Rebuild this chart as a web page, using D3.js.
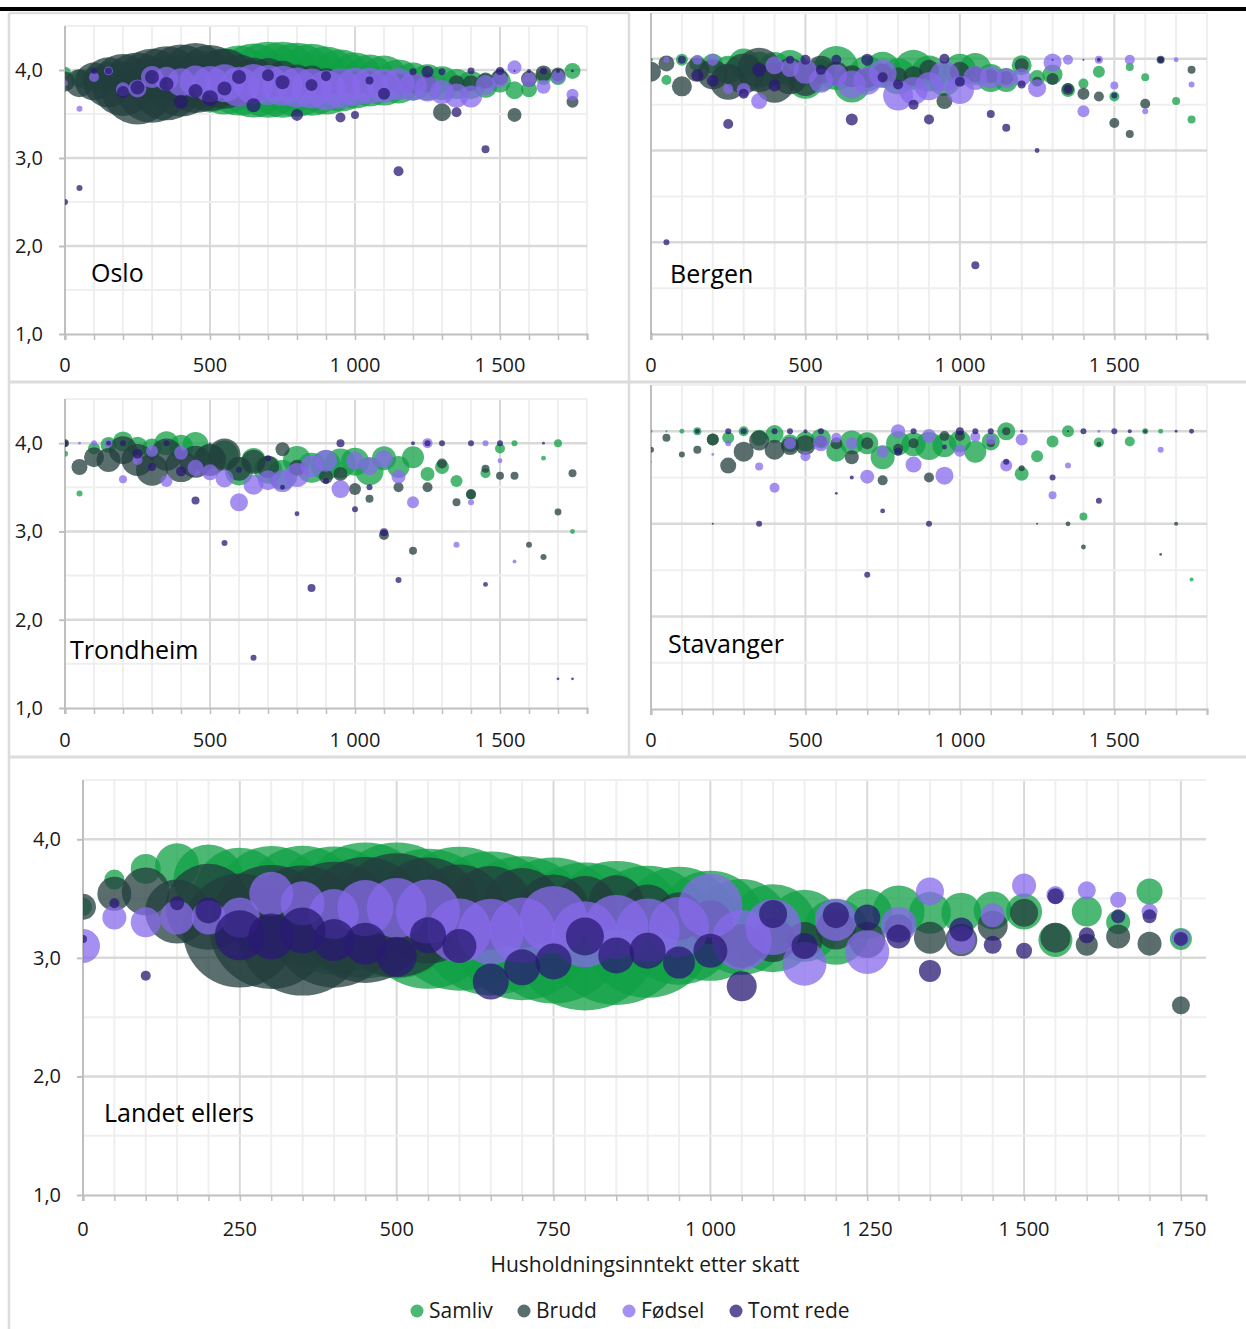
<!DOCTYPE html>
<html><head><meta charset="utf-8">
<script src="https://cdn.jsdelivr.net/npm/d3@7"></script>
<style>
html,body{margin:0;padding:0;background:#fff;}
svg{display:block;font-family:"Open Sans","Noto Sans",sans-serif;}
</style></head><body>
<svg id="chart" width="1246" height="1329"></svg>
<script>
// ---------------- DATA ----------------
const incomes = [0,50,100,150,200,250,300,350,400,450,500,550,600,650,700,750,800,850,900,950,1000,1050,1100,1150,1200,1250,1300,1350,1400,1450,1500,1550,1600,1650,1700,1750];
const seriesNames = ["Samliv","Brudd","Fødsel","Tomt rede"];
const yTickValues = [1,2,3,4];
const xTickLabelsSmall = [0,500,1000,1500];
const xTickLabelsLarge = [0,250,500,750,1000,1250,1500,1750];
const panelNames = ["Oslo","Bergen","Trondheim","Stavanger","Landet ellers"];
const xAxisTitle = "Husholdningsinntekt etter skatt";

// Oslo
const osloSamlivY = [3.97,3.90,3.90,3.92,3.90,3.90,3.90,3.90,3.88,3.88,3.87,3.87,3.88,3.88,3.89,3.89,3.89,3.89,3.88,3.88,3.88,3.88,3.88,3.87,3.87,3.86,3.85,3.84,3.83,3.82,3.87,3.77,3.78,3.92,3.92,3.99];
const osloSamlivN = [36,81,144,225,324,400,484,576,676,784,961,1089,1225,1369,1444,1444,1369,1296,1156,961,784,676,625,484,361,324,289,225,196,144,121,81,64,64,64,64];
const osloBruddY = [3.87,3.85,3.87,3.86,3.83,3.79,3.82,3.85,3.88,3.91,3.91,3.90,3.88,3.89,3.91,3.90,3.88,3.88,3.86,3.86,3.85,3.85,3.85,3.85,3.85,3.85,3.52,3.85,3.85,3.88,3.92,3.49,3.90,3.96,3.95,3.64];
const osloBruddN = [100,196,361,625,961,1296,1369,1369,1296,1225,1089,900,676,484,400,324,256,225,196,169,144,144,121,100,100,81,81,64,64,64,64,49,64,64,49,36];
const osloFodselY = [3.85,3.56,3.92,3.99,3.78,3.79,3.92,3.90,3.86,3.87,3.84,3.85,3.81,3.84,3.83,3.82,3.80,3.79,3.77,3.79,3.81,3.82,3.82,3.84,3.81,3.79,3.75,3.71,3.70,3.83,3.89,4.03,3.89,3.81,3.92,3.72];
const osloFodselN = [9,9,25,20,49,81,121,144,196,256,324,361,400,400,400,400,400,400,400,400,361,324,289,256,196,169,144,144,121,100,64,49,49,49,49,36];
const osloTomtY = [2.50,2.66,3.99,3.99,3.75,3.80,3.92,3.84,3.64,3.76,3.68,3.79,3.92,3.60,3.94,3.86,3.49,3.83,3.93,3.46,3.49,3.88,3.73,2.85,3.98,3.98,3.98,3.52,3.99,3.10,3.99,3.99,3.99,3.99,3.99,3.99];
const osloTomtN = [9,9,9,12,36,49,49,49,49,49,64,49,49,49,36,49,36,36,25,25,16,16,36,25,12,36,12,25,12,16,16,1,4,12,4,2];

// Bergen
const bergenSamlivY = [3.99,3.77,3.99,3.95,3.95,3.88,3.95,3.88,3.90,3.90,3.76,3.82,3.90,3.72,3.84,3.88,3.81,3.88,3.84,3.77,3.88,3.89,3.79,3.77,3.93,3.79,3.83,3.66,3.73,3.86,3.59,3.91,3.80,3.99,3.54,3.34];
const bergenSamlivN = [4,25,36,64,100,196,225,324,256,324,324,256,484,324,324,324,324,400,324,256,256,256,196,144,100,64,100,49,25,36,25,16,16,9,16,16];
const bergenBruddY = [3.86,3.95,3.70,3.88,3.83,3.75,3.84,3.88,3.74,3.81,3.77,3.88,3.84,3.81,3.79,3.84,3.81,3.81,3.88,3.54,3.86,3.83,3.81,3.79,3.93,3.75,3.78,3.67,3.62,3.59,3.30,3.18,3.51,3.99,null,3.88];
const bergenBruddN = [100,64,100,144,225,324,400,484,400,324,256,196,144,121,100,100,81,100,100,64,100,64,49,49,49,25,36,36,36,25,25,16,25,16,null,16];
const bergenFodselY = [1.00,3.99,null,3.99,3.99,3.67,3.66,3.54,3.93,3.90,3.86,3.76,3.82,3.72,3.76,3.84,3.60,3.65,3.70,3.81,3.66,3.79,3.80,3.79,3.80,3.68,3.96,3.99,3.43,3.99,3.71,3.99,3.43,null,3.99,3.72];
const bergenFodselN = [2,9,null,25,36,25,49,64,81,81,144,144,121,196,196,196,225,196,196,225,196,144,121,100,81,81,81,25,36,16,16,25,9,null,6,9];
const bergenTomtY = [null,2.00,3.99,3.82,3.76,3.29,3.62,3.88,3.71,3.99,3.99,3.88,3.99,3.34,3.99,3.80,3.72,3.50,3.34,4.00,3.75,1.75,3.40,3.25,3.72,3.00,3.99,3.67,3.99,3.99,3.60,null,null,3.99,null,null];
const bergenTomtN = [null,9,16,36,36,25,25,49,36,16,25,25,25,36,36,25,25,25,25,25,25,16,16,16,16,6,1,16,1,4,9,null,null,9,null,null];

// Trondheim
const trondSamlivY = [3.88,3.43,3.94,3.98,4.02,3.96,3.94,4.00,3.96,3.98,3.85,3.87,3.68,3.81,3.70,3.64,3.81,3.72,3.75,3.77,3.79,3.68,3.83,3.73,3.84,3.65,3.73,3.57,3.42,3.66,3.94,4.00,null,3.83,4.00,3.00];
const trondSamlivN = [9,9,36,64,100,100,100,144,144,169,169,196,196,144,196,225,196,225,225,225,196,196,144,121,121,49,49,36,25,25,25,9,null,6,16,6];
const trondBruddY = [4.00,3.73,3.84,3.81,3.92,3.81,3.70,3.87,3.74,3.79,3.81,3.87,3.71,3.79,3.73,3.93,3.72,null,3.62,3.65,3.48,3.37,2.96,3.50,2.78,3.50,3.77,3.33,3.42,3.71,3.63,3.63,2.85,2.71,3.22,3.66];
const trondBruddN = [16,64,100,144,196,256,256,256,256,256,256,256,144,144,121,49,64,null,49,49,36,16,25,25,16,25,25,16,25,16,16,16,9,9,12,16];
const trondFodselY = [null,4.00,4.00,4.00,3.59,3.81,3.91,3.57,3.89,3.72,3.67,3.60,3.33,3.53,3.58,3.57,3.64,3.74,3.80,3.48,3.80,3.74,3.82,3.62,3.33,4.00,null,2.85,3.33,4.00,3.80,2.66,null,null,null,null];
const trondFodselN = [null,2,9,16,16,25,36,36,49,64,64,81,81,100,100,121,144,121,121,81,81,81,81,49,36,25,null,9,9,9,6,4,null,null,null,null];
const trondTomtY = [4.00,null,null,4.00,4.00,3.88,3.73,4.00,3.68,3.35,4.00,2.87,3.70,1.57,3.83,3.50,3.20,2.36,3.57,4.00,3.25,3.50,2.99,2.45,4.00,4.00,4.00,null,4.00,2.40,4.00,null,null,4.00,1.33,1.33];
const trondTomtN = [9,null,null,6,9,25,16,9,25,16,1,9,9,9,9,6,6,16,9,16,9,9,16,9,4,9,9,null,9,6,9,null,null,2,2,2];

// Stavanger
const stavSamlivY = [4.00,4.00,4.00,4.00,3.91,3.93,4.00,3.93,3.97,3.87,3.89,3.92,3.78,3.88,3.87,3.72,3.87,3.86,3.84,3.85,3.89,3.78,3.89,4.00,3.54,3.73,3.89,4.00,3.08,3.88,null,3.89,4.00,4.00,null,2.40];
const stavSamlivN = [2,1,6,16,36,36,25,64,81,81,100,100,100,144,121,144,144,144,196,144,121,121,81,81,49,36,36,36,16,25,null,25,9,6,null,4];
const stavBruddY = [3.80,3.93,3.75,3.80,3.91,3.63,3.78,3.90,3.80,3.84,3.85,3.89,3.87,3.72,3.87,3.47,3.81,3.87,3.50,3.95,3.95,null,3.87,4.00,3.60,null,null,3.00,2.75,3.86,null,null,4.00,2.67,3.00,null];
const stavBruddN = [9,16,9,16,36,64,100,100,100,81,100,36,36,49,36,25,25,25,25,25,25,null,16,16,9,null,null,6,6,6,null,null,4,2,4,null];
const stavFodselY = [3.67,null,null,null,3.75,3.87,null,3.62,3.39,3.87,3.73,3.87,3.93,3.87,3.51,3.78,4.00,3.64,3.95,3.52,3.79,3.94,3.91,3.63,3.91,null,3.31,3.63,null,4.00,null,null,null,3.80,null,null];
const stavFodselN = [1,null,null,null,2,9,null,16,25,36,25,64,25,36,49,36,49,64,49,81,36,25,25,36,36,null,16,9,null,2,null,null,null,9,null,null];
const stavTomtY = [null,null,null,4.00,3.00,4.00,4.00,3.00,4.00,4.00,4.00,4.00,3.33,3.50,2.45,3.14,3.78,4.00,3.00,3.83,4.00,4.00,4.00,3.67,4.00,3.00,3.50,4.00,4.00,3.25,4.00,4.00,null,null,4.00,4.00];
const stavTomtN = [null,null,null,6,1,9,9,9,9,9,4,9,2,4,9,6,16,9,9,6,16,9,9,9,2,1,9,1,9,9,9,4,null,null,2,6];

// Landet ellers
const landSamlivY = [3.43,3.66,3.75,3.78,3.66,3.55,3.48,3.44,3.40,3.40,3.40,3.33,3.33,3.29,3.25,3.23,3.18,3.21,3.22,3.27,3.27,3.26,3.25,3.27,3.22,3.37,3.39,3.38,3.38,3.40,3.39,3.15,3.39,3.30,3.56,3.16];
const landSamlivN = [81,100,225,484,1225,2025,3025,3600,4096,4624,4624,4900,5184,5184,5184,5329,5476,5184,4356,3481,3025,2304,1936,1296,1089,625,676,441,400,361,324,289,225,144,169,121];
const landBruddY = [3.43,3.54,3.56,3.39,3.43,3.23,3.26,3.23,3.28,3.32,3.36,3.40,3.39,3.42,3.42,3.40,3.42,3.46,3.40,3.35,3.30,3.10,3.15,3.15,3.24,3.15,3.25,3.17,3.15,3.27,3.38,3.17,3.11,3.18,3.12,2.60];
const landBruddN = [169,289,576,1024,1849,3249,3844,4225,3969,3969,3844,2809,2209,1764,1600,1296,1024,784,676,576,484,484,484,324,400,324,196,256,256,225,196,225,121,144,144,81];
const landFodselY = [3.10,3.34,3.30,3.34,3.34,3.34,3.54,3.46,3.37,3.42,3.42,3.39,3.23,3.22,3.23,3.32,3.20,3.26,3.23,3.26,3.44,3.15,3.26,2.95,3.32,3.05,3.28,3.56,3.15,3.36,3.61,3.53,3.57,3.49,3.39,3.17];
const landFodselN = [289,144,225,289,289,400,484,484,625,784,900,1024,1024,1089,1089,1156,1089,1024,1024,900,1024,900,784,484,441,484,324,196,196,144,144,81,81,64,64,81];
const landTomtY = [3.16,3.46,2.85,3.46,3.40,3.19,3.18,3.23,3.15,3.12,3.01,3.19,3.10,2.80,2.92,2.97,3.18,3.02,3.06,2.96,3.06,2.76,3.37,3.10,3.36,3.34,3.18,2.89,3.24,3.11,3.06,3.52,3.19,3.35,3.35,3.16];
const landTomtN = [16,25,25,49,169,625,529,529,441,441,400,324,289,324,324,324,361,324,324,256,289,225,196,169,169,169,144,121,144,81,64,64,64,49,49,49];

// ---------------- RENDER ----------------
const colors = {"Samliv":"#10a044","Brudd":"#233e3e","Fødsel":"#876aeb","Tomt rede":"#2a1a74"};
const bubbleOpacity = 0.75;
const nb = d3.formatLocale({decimal:",", thousands:"\u00a0", grouping:[3], currency:["","kr"]});
const fmtX = nb.format(",d");
const fmtY = nb.format(".1f");

const svg = d3.select("#chart");

function series(Y, N){ return incomes.map((x,i)=>({x, y:Y[i], n:N[i]})).filter(d=>d.y!=null && d.n!=null); }

const panels = [
  {name:panelNames[0], x0:65, x1:587, xMax:1800, yBot:334, yTop:26, yLabels:true, labelX:91, labelY:282, xLabY:372, small:true,
   data:[series(osloSamlivY,osloSamlivN),series(osloBruddY,osloBruddN),series(osloFodselY,osloFodselN),series(osloTomtY,osloTomtN)]},
  {name:panelNames[1], x0:651, x1:1207, xMax:1800, yBot:334, yTop:13, yLabels:false, labelX:670, labelY:283, xLabY:372, small:true,
   data:[series(bergenSamlivY,bergenSamlivN),series(bergenBruddY,bergenBruddN),series(bergenFodselY,bergenFodselN),series(bergenTomtY,bergenTomtN)]},
  {name:panelNames[2], x0:65, x1:587, xMax:1800, yBot:708, yTop:399, yLabels:true, labelX:70, labelY:659, xLabY:747, small:true,
   data:[series(trondSamlivY,trondSamlivN),series(trondBruddY,trondBruddN),series(trondFodselY,trondFodselN),series(trondTomtY,trondTomtN)]},
  {name:panelNames[3], x0:651, x1:1207, xMax:1800, yBot:709, yTop:385, yLabels:false, labelX:668, labelY:653, xLabY:747, small:true,
   data:[series(stavSamlivY,stavSamlivN),series(stavBruddY,stavBruddN),series(stavFodselY,stavFodselN),series(stavTomtY,stavTomtN)]},
  {name:panelNames[4], x0:83, x1:1206, xMax:1790, yBot:1195, yTop:780, yLabels:true, labelX:104, labelY:1122, xLabY:1236, small:false,
   data:[series(landSamlivY,landSamlivN),series(landBruddY,landBruddN),series(landFodselY,landFodselN),series(landTomtY,landTomtN)]}
];

// frames
const frameColor = "#dcdcdc";
const fr = svg.append("g");
fr.append("line").attr("x1",9).attr("x2",9).attr("y1",13).attr("y2",1329).attr("stroke",frameColor).attr("stroke-width",2.5);
fr.append("line").attr("x1",9).attr("x2",629).attr("y1",13).attr("y2",13).attr("stroke",frameColor).attr("stroke-width",2.5);
fr.append("line").attr("x1",629).attr("x2",629).attr("y1",13).attr("y2",757).attr("stroke",frameColor).attr("stroke-width",2.5);
fr.append("line").attr("x1",9).attr("x2",1246).attr("y1",382).attr("y2",382).attr("stroke",frameColor).attr("stroke-width",3);
fr.append("line").attr("x1",9).attr("x2",1246).attr("y1",757).attr("y2",757).attr("stroke",frameColor).attr("stroke-width",3);
// top black rule
svg.append("rect").attr("x",0).attr("y",7).attr("width",1246).attr("height",4).attr("fill","#000");

panels.forEach((p,pi)=>{
  const g = svg.append("g");
  const x = d3.scaleLinear().domain([0,p.xMax]).range([p.x0,p.x1]);
  const y = d3.scaleLinear().domain([1,4.5]).range([p.yBot,p.yTop]);
  const r = p.small ? d3.scaleSqrt().domain([0,1444]).range([0,38]) : d3.scaleSqrt().domain([0,5476]).range([0,74]);
  const step = p.small ? 100 : 50;
  const major = p.small ? 500 : 250;
  const vx = d3.range(0, p.xMax+1, step);
  // vertical grid
  g.append("g").selectAll("line").data(vx).join("line")
    .attr("x1",d=>x(d)).attr("x2",d=>x(d)).attr("y1",y(4.5)).attr("y2",y(1))
    .attr("stroke",d=> d%major===0 ? "#d9d9d9" : "#efefef").attr("stroke-width",2);
  // horizontal grid
  const hy = [1.5,2,2.5,3,3.5,4,4.5];
  g.append("g").selectAll("line").data(hy).join("line")
    .attr("x1",x(0)).attr("x2",p.x1).attr("y1",d=>y(d)).attr("y2",d=>y(d))
    .attr("stroke",d=> Number.isInteger(d) ? "#d9d9d9" : "#efefef").attr("stroke-width",d=>Number.isInteger(d)?2.5:2);
  // axes
  const xAxis = d3.axisBottom(x).tickValues(vx).tickSize(6).tickFormat("");
  const xa = g.append("g").attr("transform",`translate(0,${y(1)})`).call(xAxis);
  xa.select(".domain").attr("stroke","#bfbfbf").attr("stroke-width",2);
  xa.selectAll(".tick line").attr("stroke","#bfbfbf").attr("stroke-width",1.5);
  g.append("line").attr("x1",x(0)).attr("x2",x(0)).attr("y1",y(4.5)).attr("y2",y(1)+6).attr("stroke","#bfbfbf").attr("stroke-width",2);
  // x tick labels
  const xl = p.small ? xTickLabelsSmall : xTickLabelsLarge;
  g.append("g").selectAll("text").data(xl).join("text")
    .attr("x",d=>x(d)).attr("y",p.xLabY).attr("text-anchor","middle")
    .attr("font-size",20).attr("fill","#1a1a1a").text(d=>fmtX(d));
  if(p.yLabels){
    const ya = g.append("g").attr("transform",`translate(${x(0)},0)`)
      .call(d3.axisLeft(y).tickValues(yTickValues).tickSize(6).tickPadding(16).tickFormat(fmtY));
    ya.select(".domain").remove();
    ya.selectAll(".tick line").attr("stroke","#bfbfbf").attr("stroke-width",2);
    ya.selectAll("text").attr("font-size",20).attr("fill","#1a1a1a").attr("font-family","Open Sans, Noto Sans, sans-serif");
  }
  // clip
  const cid = "clip"+pi;
  svg.append("clipPath").attr("id",cid).append("rect")
    .attr("x",p.x0).attr("y",y(4.5)).attr("width",p.x1-p.x0).attr("height",y(1)-y(4.5));
  const bg = g.append("g").attr("clip-path",`url(#${cid})`);
  p.data.forEach((s,si)=>{
    bg.append("g").selectAll("circle").data(s).join("circle")
      .attr("cx",d=>x(d.x)).attr("cy",d=>y(d.y)).attr("r",d=>r(d.n))
      .attr("fill",colors[seriesNames[si]]).attr("fill-opacity",bubbleOpacity);
  });
  // panel label
  g.append("text").attr("x",p.labelX).attr("y",p.labelY).attr("font-size",25).attr("fill","#000").text(p.name);
});

// axis title
svg.append("text").attr("x",645).attr("y",1272).attr("text-anchor","middle").attr("font-size",21).attr("fill","#1a1a1a").text(xAxisTitle);

// legend
const legendX = [417,524,629,736];
const lg = svg.append("g");
seriesNames.forEach((s,i)=>{
  lg.append("circle").attr("cx",legendX[i]).attr("cy",1311).attr("r",6.5).attr("fill",colors[s]).attr("fill-opacity",bubbleOpacity);
  lg.append("text").attr("x",legendX[i]+12).attr("y",1318).attr("font-size",21).attr("fill","#1a1a1a").text(s);
});
</script>
</body></html>
